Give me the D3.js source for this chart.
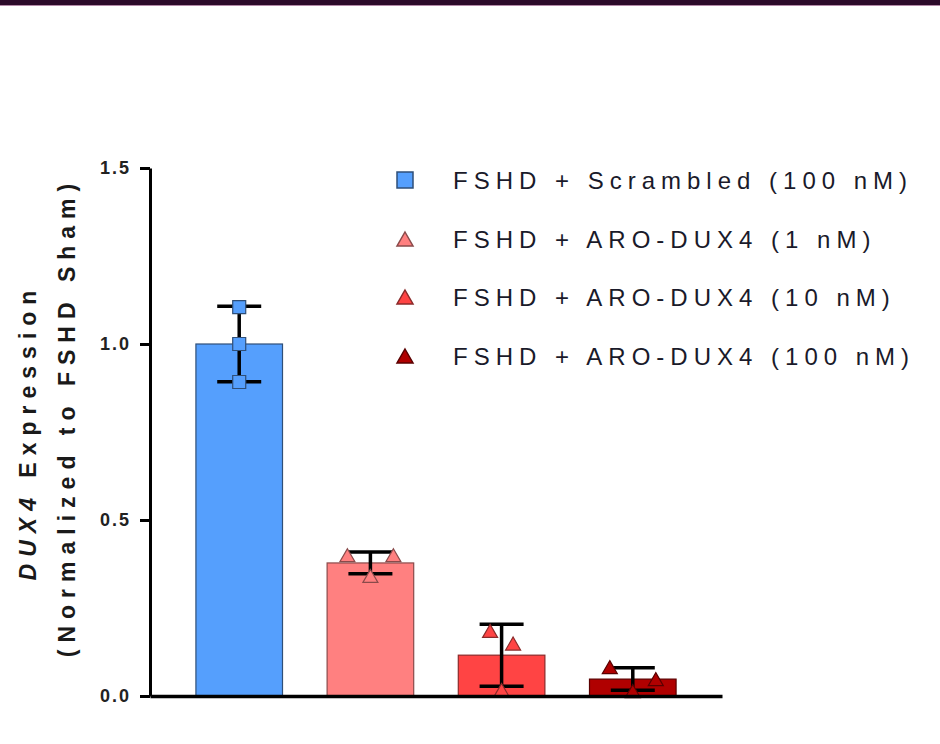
<!DOCTYPE html>
<html lang="en">
<head>
  <meta charset="utf-8">
  <title>DUX4 Expression</title>
  <script src="https://d3js.org/d3.v7.min.js"></script>
  <style type="text/css">
    body { margin: 0; background: #fff; }
    svg { display: block; font-family: "Liberation Sans", Arial, sans-serif; }
    .y-axis text { font-size: 18px; font-weight: bold; letter-spacing: 2px; }
  </style>
</head>
<body>
  <script type="text/javascript">

// values
const groups = ["FSHD + Scrambled (100 nM)", "FSHD + ARO-DUX4 (1 nM)", "FSHD + ARO-DUX4 (10 nM)", "FSHD + ARO-DUX4 (100 nM)"];
const means = [1.0, 0.378, 0.116, 0.048];
const sds = [0.107, 0.031, 0.088, 0.032];
const points = [[1.105, 1.0, 0.892], [0.40, 0.341, 0.40], [0.185, 0.017, 0.149], [0.082, 0.014, 0.048]];
// scatter column of each replicate (-1 left, 0 centre, 1 right)
const slots = [[0, 0, 0], [-1, 0, 1], [-0.5, 0, 0.5], [-1, 0, 1]];
const shapes = ["square", "triangle", "triangle", "triangle"];
const yTicks = [0, 0.5, 1.0, 1.5];

const fills = ["#559ffd", "#ff8080", "#ff4444", "#b00000"];
const strokes = ["#2f4f78", "#8a4a4a", "#8a2a2a", "#5a0000"];

const width = 940, height = 744;

const svg = d3.select("body").append("svg")
    .attr("width", width)
    .attr("height", height);

// dark band at the top
svg.append("rect")
    .attr("x", 0).attr("y", 0)
    .attr("width", width).attr("height", 5)
    .attr("fill", "#2c0a2a");
svg.append("line")
    .attr("x1", 0).attr("x2", width)
    .attr("y1", 5.5).attr("y2", 5.5)
    .attr("stroke", "#b48aa8").attr("stroke-width", 1);

const xScale = d3.scaleBand()
    .domain(groups)
    .range([150, 722])
    .paddingInner(0.34)
    .paddingOuter(0.35);

const yScale = d3.scaleLinear()
    .domain([0, 1.5])
    .range([696, 168]);

// bars
svg.selectAll("rect.bar")
    .data(groups)
    .enter()
    .append("rect")
    .attr("class", "bar")
    .attr("x", d => xScale(d))
    .attr("y", (d, i) => yScale(means[i]))
    .attr("width", xScale.bandwidth())
    .attr("height", (d, i) => yScale(0) - yScale(means[i]))
    .attr("fill", (d, i) => fills[i])
    .attr("stroke", (d, i) => strokes[i])
    .attr("stroke-width", 1.2);

// error bars (mean +/- SD)
const capHalf = 22;
const err = svg.selectAll("g.err")
    .data(groups)
    .enter()
    .append("g")
    .attr("class", "err")
    .attr("stroke", "#000")
    .attr("stroke-width", 3.5);

err.append("line")
    .attr("x1", d => xScale(d) + xScale.bandwidth() / 2)
    .attr("x2", d => xScale(d) + xScale.bandwidth() / 2)
    .attr("y1", (d, i) => yScale(means[i] + sds[i]))
    .attr("y2", (d, i) => yScale(means[i] - sds[i]));
err.append("line")
    .attr("x1", d => xScale(d) + xScale.bandwidth() / 2 - capHalf)
    .attr("x2", d => xScale(d) + xScale.bandwidth() / 2 + capHalf)
    .attr("y1", (d, i) => yScale(means[i] + sds[i]))
    .attr("y2", (d, i) => yScale(means[i] + sds[i]));
err.append("line")
    .attr("x1", d => xScale(d) + xScale.bandwidth() / 2 - capHalf)
    .attr("x2", d => xScale(d) + xScale.bandwidth() / 2 + capHalf)
    .attr("y1", (d, i) => yScale(means[i] - sds[i]))
    .attr("y2", (d, i) => yScale(means[i] - sds[i]));

function markerPath(shape, s) {
  if (shape === "square") {
    return `M${-s / 2},${-s / 2}H${s / 2}V${s / 2}H${-s / 2}Z`;
  }
  return `M0,${-s / 2}L${s / 2 + 1},${s / 2}H${-s / 2 - 1}Z`;
}

// replicate points
const slotWidth = 23;
const pts = [];
groups.forEach((g, i) => {
  points[i].forEach((v, j) => pts.push({ g: g, i: i, v: v, slot: slots[i][j] }));
});

svg.selectAll("path.point")
    .data(pts)
    .enter()
    .append("path")
    .attr("class", "point")
    .attr("d", d => markerPath(shapes[d.i], 13))
    .attr("transform", d => `translate(${xScale(d.g) + xScale.bandwidth() / 2 + d.slot * slotWidth}, ${yScale(d.v)})`)
    .attr("fill", d => fills[d.i])
    .attr("stroke", d => strokes[d.i])
    .attr("stroke-width", 1.2);

// axes
const yAxis = d3.axisLeft(yScale)
    .tickValues(yTicks)
    .tickFormat(d3.format(".1f"))
    .tickSize(10)
    .tickSizeOuter(0);

const yG = svg.append("g")
    .attr("class", "y-axis")
    .attr("transform", "translate(150, 0)")
    .call(yAxis);
yG.select(".domain").attr("stroke-width", 3);
yG.selectAll(".tick line").attr("stroke-width", 3);
yG.selectAll(".tick text")
    .attr("x", -19)
    .attr("fill", "#222");

const xAxis = d3.axisBottom(xScale)
    .tickValues([])
    .tickSizeOuter(0);
const xG = svg.append("g")
    .attr("transform", "translate(0, 696)")
    .call(xAxis);
xG.select(".domain").attr("stroke-width", 3.5);

// y axis title
const title1 = svg.append("text")
    .attr("transform", "translate(36, 432) rotate(-90)")
    .attr("text-anchor", "middle")
    .style("font-size", "23px")
    .style("font-weight", "bold")
    .style("letter-spacing", "7px")
    .attr("fill", "#1a1a1a");
title1.append("tspan").style("font-style", "italic").text("DUX4");
title1.append("tspan").text(" Expression");

svg.append("text")
    .attr("transform", "translate(75, 417) rotate(-90)")
    .attr("text-anchor", "middle")
    .style("font-size", "23px")
    .style("font-weight", "bold")
    .style("letter-spacing", "7px")
    .attr("fill", "#1a1a1a")
    .text("(Normalized to FSHD Sham)");

// legend
const legendY = [180, 239, 297, 356];
const legend = svg.selectAll("g.legend")
    .data(groups)
    .enter()
    .append("g")
    .attr("class", "legend")
    .attr("transform", (d, i) => `translate(405, ${legendY[i]})`);

legend.append("path")
    .attr("d", (d, i) => markerPath(shapes[i], shapes[i] === "square" ? 16 : 14))
    .attr("fill", (d, i) => fills[i])
    .attr("stroke", (d, i) => strokes[i])
    .attr("stroke-width", 1.5);

legend.append("text")
    .attr("x", 48)
    .attr("y", 9)
    .style("font-size", "24px")
    .style("letter-spacing", "6px")
    .attr("fill", "#1a1a2a")
    .text(d => d);

  </script>
</body>
</html>
